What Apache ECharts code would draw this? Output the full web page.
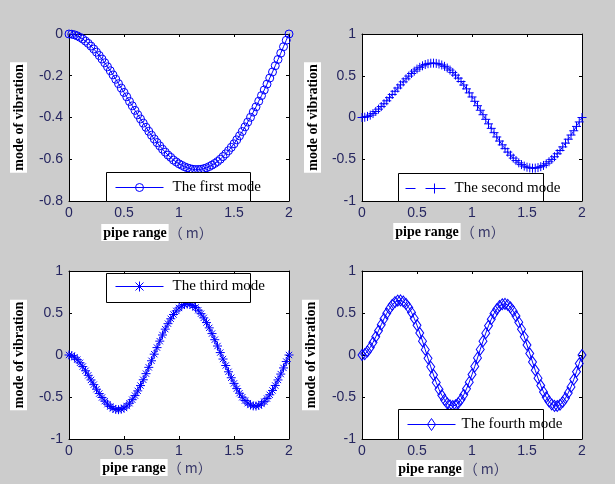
<!DOCTYPE html>
<html>
<head>
<meta charset="utf-8">
<script src="https://cdn.jsdelivr.net/npm/echarts@6/dist/echarts.min.js"></script>
<style>
html,body{margin:0;padding:0;background:#cccccc;}
#c{width:615px;height:484px;}
</style>
</head>
<body>
<div id="c"></div>
<script>
// pipe position (m): main samples and the samples half-way between them
const xs = [0,0.05,0.1,0.15,0.2,0.25,0.3,0.35,0.4,0.45,0.5,0.55,0.6,0.65,0.7,0.75,0.8,0.85,0.9,0.95,1,
            1.05,1.1,1.15,1.2,1.25,1.3,1.35,1.4,1.45,1.5,1.55,1.6,1.65,1.7,1.75,1.8,1.85,1.9,1.95,2];
const xsMid = [0.025,0.075,0.125,0.175,0.225,0.275,0.325,0.375,0.425,0.475,0.525,0.575,0.625,0.675,0.725,0.775,0.825,0.875,0.925,0.975,
               1.025,1.075,1.125,1.175,1.225,1.275,1.325,1.375,1.425,1.475,1.525,1.575,1.625,1.675,1.725,1.775,1.825,1.875,1.925,1.975];
const mode1 = [0,-0.004,-0.016,-0.034,-0.058,-0.087,-0.120,-0.157,-0.196,-0.238,-0.280,-0.323,-0.366,-0.407,-0.447,-0.485,-0.520,-0.552,-0.580,-0.604,-0.622,
               -0.636,-0.645,-0.649,-0.648,-0.641,-0.628,-0.611,-0.587,-0.559,-0.526,-0.488,-0.445,-0.399,-0.349,-0.295,-0.240,-0.182,-0.122,-0.061,0];
const mode1Mid = [-0.001,-0.009,-0.024,-0.045,-0.072,-0.103,-0.138,-0.176,-0.217,-0.259,-0.301,-0.344,-0.387,-0.427,-0.466,-0.503,-0.536,-0.566,-0.591,-0.613,
                  -0.629,-0.641,-0.648,-0.649,-0.645,-0.635,-0.620,-0.600,-0.574,-0.543,-0.507,-0.467,-0.422,-0.374,-0.322,-0.268,-0.211,-0.152,-0.092,-0.030];
const mode2 = [0,0.013,0.047,0.100,0.165,0.238,0.314,0.391,0.463,0.527,0.580,0.619,0.644,0.651,0.641,0.613,0.568,0.507,0.431,0.343,0.246,
               0.141,0.033,-0.076,-0.182,-0.282,-0.373,-0.451,-0.516,-0.564,-0.595,-0.607,-0.600,-0.574,-0.530,-0.470,-0.395,-0.307,-0.210,-0.107,0];
const mode2Mid = [0.003,0.028,0.072,0.131,0.200,0.276,0.353,0.427,0.496,0.555,0.601,0.634,0.650,0.648,0.629,0.593,0.540,0.471,0.389,0.295,
                  0.194,0.087,-0.022,-0.130,-0.233,-0.328,-0.414,-0.486,-0.543,-0.582,-0.603,-0.606,-0.589,-0.554,-0.502,-0.434,-0.352,-0.260,-0.159,-0.053];
const mode3 = [0,-0.026,-0.093,-0.188,-0.297,-0.407,-0.506,-0.585,-0.635,-0.651,-0.631,-0.574,-0.483,-0.364,-0.222,-0.069,0.088,0.238,0.373,0.482,0.560,
               0.601,0.603,0.566,0.492,0.386,0.255,0.107,-0.048,-0.200,-0.338,-0.455,-0.542,-0.595,-0.608,-0.583,-0.519,-0.422,-0.297,-0.154,0];
const mode3Mid = [-0.007,-0.055,-0.138,-0.242,-0.353,-0.459,-0.549,-0.614,-0.648,-0.645,-0.607,-0.532,-0.427,-0.295,-0.147,0.010,0.165,0.308,0.431,0.525,
                  0.585,0.607,0.589,0.533,0.442,0.323,0.182,0.029,-0.125,-0.271,-0.400,-0.503,-0.573,-0.606,-0.600,-0.555,-0.474,-0.363,-0.227,-0.078];
const mode4 = [0,0.043,0.149,0.289,0.431,0.552,0.629,0.650,0.609,0.507,0.354,0.165,-0.040,-0.238,-0.409,-0.534,-0.599,-0.598,-0.530,-0.403,-0.232,
               -0.035,0.165,0.348,0.493,0.583,0.608,0.567,0.463,0.308,0.119,-0.083,-0.276,-0.439,-0.553,-0.606,-0.592,-0.513,-0.380,-0.199,0];
const mode4Mid = [0.011,0.090,0.217,0.361,0.496,0.597,0.648,0.637,0.565,0.436,0.262,0.063,-0.141,-0.328,-0.479,-0.575,-0.607,-0.572,-0.474,-0.323,
                  -0.136,0.066,0.260,0.426,0.545,0.604,0.596,0.522,0.391,0.216,0.018,-0.182,-0.363,-0.503,-0.588,-0.607,-0.560,-0.451,-0.292,-0.101];
const seriesNames = ['The first mode','The second mode','The third mode','The fourth mode'];
const xTicks = [0,0.5,1,1.5,2];
const yTicks1 = [-0.8,-0.6,-0.4,-0.2,0];
const yTicks = [-1,-0.5,0,0.5,1];
const yTitle = 'mode of vibration';
const xTitle = 'pipe range';
const xUnit = '\uFF08 m\uFF09';

const modes = [[mode1, mode1Mid], [mode2, mode2Mid], [mode3, mode3Mid], [mode4, mode4Mid]];
const BLUE = '#0000ff';
const TICKC = '#262660';
const grids = [
  {left:69, top:34, width:220, height:167},
  {left:362, top:34, width:220, height:167},
  {left:69, top:271, width:220, height:168},
  {left:362, top:271, width:220, height:168}
];
const yNameGap = [42, 41, 42, 43];
const xNameGap = [23, 22, 19, 21];
const xNamePad = [44, 46, 46, 40];
const symbols = [
  {symbol:'circle', size:8},
  {symbol:'path://M5,0L5,10M0,5L10,5', size:9},
  {symbol:'path://M5,0L5,10M0,5L10,5M1.5,1.5L8.5,8.5M1.5,8.5L8.5,1.5', size:9},
  {symbol:'diamond', size:[8,11]}
];
// legend sample icons: line + marker
const legendIcons = [
  'path://M0,6L48,6M20,6A4,4 0 1,0 28,6A4,4 0 1,0 20,6M0,0L0,0M48,12L48,12',
  'path://M0,6L10,6M20,6L40,6M29,1L29,11M0,0L0,0M40,12L40,12',
  'path://M0,6L48,6M24,1L24,11M20,2L28,10M20,10L28,2M0,0L0,0M48,12L48,12',
  'path://M0,6L48,6M24,0L28,6L24,12L20,6Z'
];
const fmt = v => String(Math.round(v * 100) / 100);

function buildData(i) {
  const main = xs.map((x, k) => [x, modes[i][0][k]]);
  const mid = xsMid.map((x, k) => [x, modes[i][1][k]]);
  return main.concat(mid).sort((a, b) => a[0] - b[0]);
}

const xAxes = [], yAxes = [], series = [], legends = [];
grids.forEach((g, i) => {
  const yt = i === 0 ? yTicks1 : yTicks;
  const yMin = yt[0], yMax = yt[yt.length-1], yInt = Math.round((yt[1]-yt[0])*100)/100;
  const common = {
    gridIndex:i, type:'value', splitLine:{show:false},
    axisLine:{show:true, onZero:false, lineStyle:{color:'#000', width:1}},
    axisTick:{show:true, inside:true, length:3, lineStyle:{color:'#000'}}
  };
  xAxes.push(Object.assign({}, common, {
    position:'bottom', min:xTicks[0], max:xTicks[xTicks.length-1], interval:xTicks[1]-xTicks[0],
    axisLabel:{show:true, color:TICKC, fontFamily:'Liberation Sans', fontSize:14, margin:5, formatter:fmt},
    name:'{a|' + xTitle + '}{b|' + xUnit + '}', nameLocation:'middle', nameGap:xNameGap[i],
    nameTextStyle:{
      padding:[0, xNamePad[i], 0, 0],
      rich:{
        a:{fontFamily:'Liberation Serif', fontWeight:'bold', fontSize:14, color:'#000', backgroundColor:'#fff', padding:[2,2,1,2]},
        b:{fontFamily:'Noto Sans CJK SC', fontSize:14, color:'#3a3a6a'}
      }
    }
  }));
  xAxes.push(Object.assign({}, common, {
    position:'top', min:xTicks[0], max:xTicks[xTicks.length-1], interval:xTicks[1]-xTicks[0],
    axisLabel:{show:false}
  }));
  yAxes.push(Object.assign({}, common, {
    position:'left', min:yMin, max:yMax, interval:yInt,
    axisLabel:{show:true, color:TICKC, fontFamily:'Liberation Sans', fontSize:14, margin:6, formatter:fmt},
    name:yTitle, nameLocation:'middle', nameGap:yNameGap[i], nameRotate:90,
    nameTextStyle:{fontFamily:'Liberation Serif', fontWeight:'bold', fontSize:14, color:'#000',
      backgroundColor:'#fff', padding:[2,2,1,2]}
  }));
  yAxes.push(Object.assign({}, common, {
    position:'right', min:yMin, max:yMax, interval:yInt,
    axisLabel:{show:false}
  }));
  const sym = symbols[i];
  series.push({
    name:seriesNames[i], type:'line', xAxisIndex:2*i, yAxisIndex:2*i,
    color:BLUE,
    data: buildData(i),
    symbol:sym.symbol, symbolSize:sym.size, showAllSymbol:true,
    lineStyle:{color:BLUE, width:1, type: i === 1 ? 'dashed' : 'solid'},
    itemStyle:{color:'rgba(0,0,0,0)', borderColor:BLUE, borderWidth:1},
    emphasis:{disabled:true}, z:2
  });
});

const legendPos = [
  {left:115, top:180, itemWidth:48, gap:4},
  {left:405, top:181, itemWidth:40, gap:4},
  {left:115, top:279, itemWidth:48, gap:4},
  {left:407, top:417, itemWidth:48, gap:1}
];
legendPos.forEach((p, i) => {
  legends.push({
    data:[{
      name:seriesNames[i],
      icon:legendIcons[i],
      itemStyle:{color:'rgba(0,0,0,0)', borderColor:BLUE, borderWidth:1}
    }],
    left:p.left, top:p.top, padding:0, itemWidth:p.itemWidth, itemHeight:12,
    textStyle:{fontFamily:'Liberation Serif', fontSize:15, color:'#000', padding:[0,0,0,p.gap]},
    selectedMode:false, z:5
  });
});

const boxes = [
  [106,172,144,29],[398,173,145,28],[106,273,144,29],[398,409,145,30]
];
const graphic = boxes.map(b => ({
  type:'rect', z:3, silent:true,
  shape:{x:b[0]+0.5, y:b[1]+0.5, width:b[2], height:b[3]},
  style:{fill:'#fff', stroke:'#000', lineWidth:1}
}));

const chart = echarts.init(document.getElementById('c'), null, {renderer:'canvas'});
chart.setOption({
  backgroundColor:'#cccccc',
  animation:false,
  grid: grids.map(g => Object.assign({show:true, backgroundColor:'#fff', borderColor:'#000', borderWidth:0, outerBoundsMode:'none', containLabel:false}, g)),
  xAxis:xAxes, yAxis:yAxes, series:series, legend:legends, graphic:graphic
});
</script>
</body>
</html>
